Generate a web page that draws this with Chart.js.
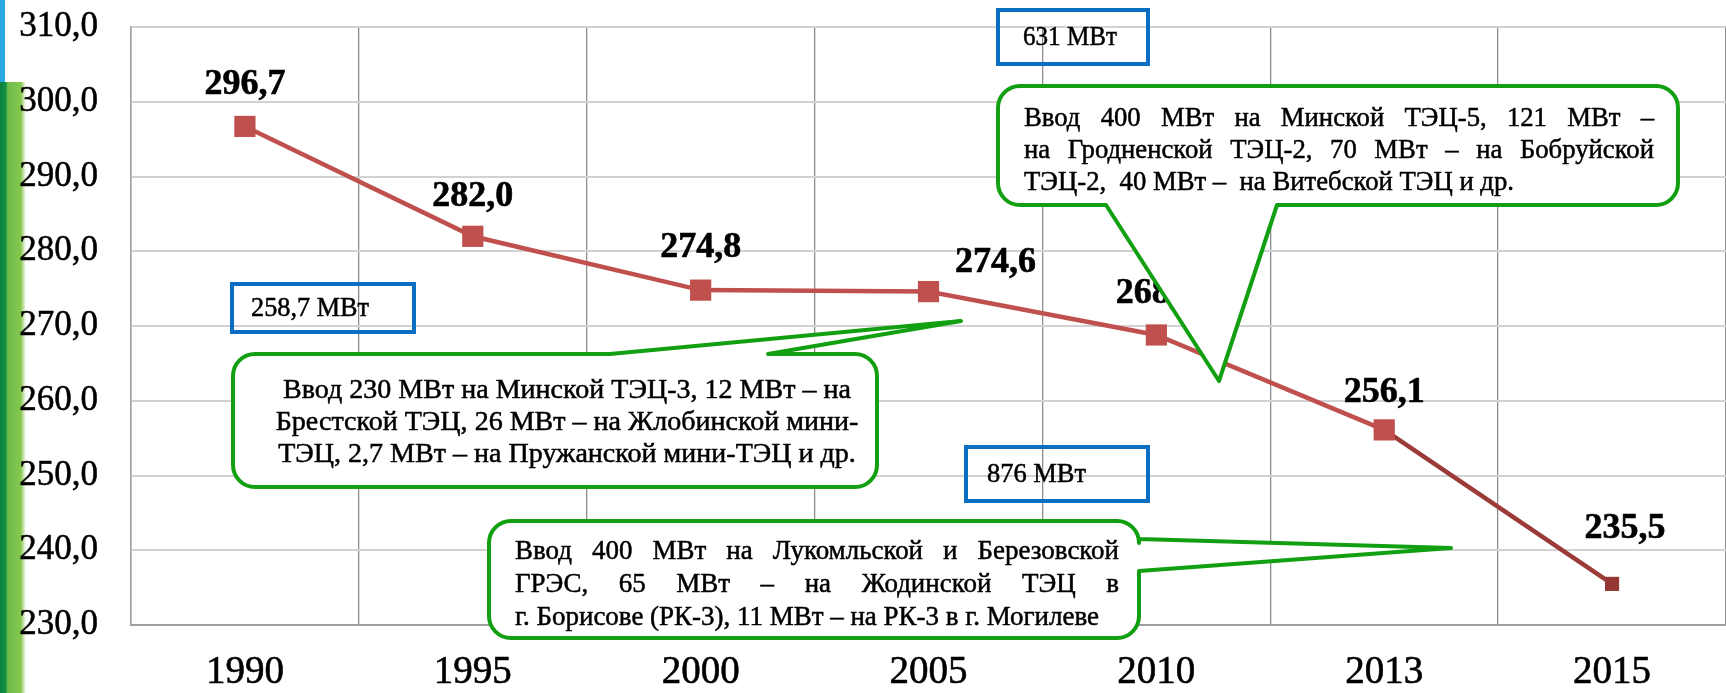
<!DOCTYPE html>
<html>
<head>
<meta charset="utf-8">
<script src="https://cdn.jsdelivr.net/npm/chart.js@4.4.0/dist/chart.umd.min.js"></script>
<style>
html, body { margin: 0; padding: 0; background: #fff; overflow: hidden; }
#wrap { position: relative; width: 1726px; height: 693px; }
</style>
</head>
<body>
<div id="wrap"><canvas id="myChart" width="1726" height="693"></canvas></div>
<script>
// данные графика
var years = ['1990', '1995', '2000', '2005', '2010', '2013', '2015'];
var values = [296.7, 282.0, 274.8, 274.6, 268.8, 256.1, 235.5];
var yMin = 230, yMax = 310, yStep = 10;

var boxTexts = ['258,7 МВт', '631 МВт', '876 МВт'];
var noteLeft = [
    'Ввод 230 МВт на Минской ТЭЦ-3, 12 МВт – на',
    'Брестской ТЭЦ, 26 МВт – на Жлобинской мини-',
    'ТЭЦ, 2,7 МВт – на Пружанской мини-ТЭЦ и др.'
];
var noteTop = [
    'Ввод 400 МВт на Минской ТЭЦ-5, 121 МВт –',
    'на Гродненской ТЭЦ-2, 70 МВт – на Бобруйской',
    'ТЭЦ-2,  40 МВт –  на Витебской ТЭЦ и др.'
];
var noteBottom = [
    'Ввод 400 МВт на Лукомльской и Березовской',
    'ГРЭС, 65 МВт – на Жодинской ТЭЦ в',
    'г. Борисове (РК-3), 11 МВт – на РК-3 в г. Могилеве'
];

// смещения подписей значений относительно точек
var labelShift = [[0, -42], [0, -40], [0, -42], [67, -29], [0, -41], [0, -37], [13, -55]];

var SERIF = "'Liberation Serif', 'Times New Roman', serif";

function fmt(v) { return v.toFixed(1).replace('.', ','); }

function scaledText(ctx, text, x, y, s) {
    ctx.save();
    ctx.translate(x, y);
    ctx.scale(s, 1);
    ctx.fillText(text, 0, 0);
    ctx.strokeText(text, 0, 0);
    ctx.restore();
}

function drawLines(ctx, n) {
    ctx.font = n.size + 'px ' + SERIF;
    ctx.fillStyle = '#000';
    ctx.strokeStyle = '#000';
    ctx.lineWidth = 0.5;
    ctx.textBaseline = 'middle';
    ctx.textAlign = 'left';
    var s = n.refWidth / ctx.measureText(n.lines[n.ref]).width;
    n.lines.forEach(function(line, i) {
        var y = n.y0 + i * n.lh;
        if (n.align === 'center') {
            var w = ctx.measureText(line).width * s;
            scaledText(ctx, line, n.cx - w / 2, y, s);
        } else if (n.align === 'justify' && i < n.lines.length - 1) {
            var words = line.split(/\s+/);
            var total = 0;
            words.forEach(function(wd) { total += ctx.measureText(wd).width * s; });
            var gap = (n.width - total) / (words.length - 1);
            var x = n.x;
            words.forEach(function(wd) {
                scaledText(ctx, wd, x, y, s);
                x += ctx.measureText(wd).width * s + gap;
            });
        } else {
            scaledText(ctx, line, n.x, y, s);
        }
    });
}

function calloutPath(ctx, b, t) {
    var x = b.x, y = b.y, w = b.w, h = b.h, r = b.r;
    ctx.beginPath();
    ctx.moveTo(x + r, y);
    if (t.side === 'top') { ctx.lineTo(t.a, y); ctx.lineTo(t.tx, t.ty); ctx.lineTo(t.b, y); }
    ctx.lineTo(x + w - r, y);
    ctx.arcTo(x + w, y, x + w, y + r, r);
    if (t.side === 'right') { ctx.lineTo(x + w, t.a); ctx.lineTo(t.tx, t.ty); ctx.lineTo(x + w, t.b); }
    ctx.lineTo(x + w, y + h - r);
    ctx.arcTo(x + w, y + h, x + w - r, y + h, r);
    if (t.side === 'bottom') { ctx.lineTo(t.b, y + h); ctx.lineTo(t.tx, t.ty); ctx.lineTo(t.a, y + h); }
    ctx.lineTo(x + r, y + h);
    ctx.arcTo(x, y + h, x, y + h - r, r);
    ctx.lineTo(x, y + r);
    ctx.arcTo(x, y, x + r, y, r);
    ctx.closePath();
}

var callouts = [
    { box: { x: 233, y: 354, w: 644, h: 133, r: 22 },
      tail: { side: 'top', a: 610, b: 768, tx: 961, ty: 321 },
      text: { lines: noteLeft, align: 'center', cx: 567, y0: 391, lh: 32, size: 27, ref: 0, refWidth: 568 } },
    { box: { x: 998, y: 86, w: 680, h: 119, r: 22 },
      tail: { side: 'bottom', a: 1106, b: 1277, tx: 1219, ty: 381 },
      text: { lines: noteTop, align: 'justify', x: 1024, width: 630, y0: 119, lh: 32, size: 27, ref: 2, refWidth: 490 } },
    { box: { x: 489, y: 521, w: 650, h: 117, r: 22 },
      tail: { side: 'right', a: 539, b: 571, tx: 1451, ty: 548 },
      text: { lines: noteBottom, align: 'justify', x: 515, width: 604, y0: 552, lh: 33, size: 27, ref: 2, refWidth: 584 } }
];

var blueBoxes = [
    { x: 232, y: 284, w: 182, h: 48, tx: 251, tw: 118 },
    { x: 998, y: 10, w: 150, h: 54, tx: 1023, tw: 94 },
    { x: 966, y: 447, w: 182, h: 54, tx: 987, tw: 99 }
];

var decorPlugin = {
    id: 'decor',
    beforeDraw: function(chart) {
        var ctx = chart.ctx;
        ctx.save();
        ctx.fillStyle = '#fff';
        ctx.fillRect(0, 0, chart.width, chart.height);
        ctx.fillStyle = '#29a8e0';
        ctx.fillRect(0, 0, 5, 82);
        var g = ctx.createLinearGradient(0, 0, 26, 0);
        g.addColorStop(0, '#0b8040');
        g.addColorStop(0.22, '#149044');
        g.addColorStop(0.3, '#6fbb4a');
        g.addColorStop(0.8, '#86c84f');
        g.addColorStop(1, 'rgba(134,200,79,0)');
        ctx.fillStyle = g;
        ctx.fillRect(0, 82, 26, chart.height - 82);
        ctx.restore();
    },
    afterDatasetsDraw: function(chart) {
        var ctx = chart.ctx;
        var meta = chart.getDatasetMeta(0);
        ctx.save();
        ctx.font = 'bold 36px ' + SERIF;
        ctx.fillStyle = '#000';
        ctx.strokeStyle = '#000';
        ctx.lineWidth = 0.6;
        ctx.textAlign = 'center';
        ctx.textBaseline = 'middle';
        meta.data.forEach(function(pt, i) {
            var x = pt.x + labelShift[i][0], y = pt.y + labelShift[i][1];
            ctx.fillText(fmt(values[i]), x, y);
            ctx.strokeText(fmt(values[i]), x, y);
        });

        // синие рамки с мощностью
        ctx.font = '27px ' + SERIF;
        ctx.textAlign = 'left';
        blueBoxes.forEach(function(b, i) {
            ctx.strokeStyle = '#0a6fc2';
            ctx.lineWidth = 4;
            ctx.strokeRect(b.x, b.y, b.w, b.h);
            ctx.strokeStyle = '#000';
            ctx.lineWidth = 0.5;
            var s = b.tw / ctx.measureText(boxTexts[i]).width;
            scaledText(ctx, boxTexts[i], b.tx, b.y + b.h / 2 + 1, s);
        });

        // выноски
        callouts.forEach(function(c) {
            calloutPath(ctx, c.box, c.tail);
            ctx.fillStyle = '#fff';
            ctx.fill();
            ctx.strokeStyle = '#12a012';
            ctx.lineWidth = 4;
            ctx.lineJoin = 'round';
            ctx.stroke();
            drawLines(ctx, c.text);
        });
        ctx.restore();
    }
};

var ctx = document.getElementById('myChart').getContext('2d');
var myChart = new Chart(ctx, {
    type: 'line',
    data: {
        labels: years,
        datasets: [{
            data: values,
            borderColor: '#c0504d',
            borderWidth: 4.5,
            tension: 0,
            pointStyle: 'rect',
            pointRadius: [15, 15, 15, 15, 15, 15, 10],
            pointBackgroundColor: ['#c0504d', '#c0504d', '#c0504d', '#c0504d', '#c0504d', '#c0504d', '#953735'],
            pointBorderWidth: 0,
            segment: {
                borderColor: function(c) { return c.p1DataIndex === 6 ? '#9b3b38' : '#c0504d'; }
            }
        }]
    },
    options: {
        responsive: false,
        animation: false,
        devicePixelRatio: 1,
        layout: { autoPadding: false, padding: { top: 27, right: 0, left: 0, bottom: 0 } },
        plugins: { legend: { display: false }, title: { display: false }, tooltip: { enabled: false } },
        scales: {
            x: {
                offset: true,
                grid: { offset: true, color: '#8c8c8c', lineWidth: 1.3, drawTicks: false },
                border: { color: '#a0a0a0', width: 2 },
                ticks: { color: '#000', textStrokeColor: '#000', textStrokeWidth: 0.6,
                         font: { family: SERIF, size: 39 }, padding: 24 },
                afterFit: function(s) { s.height = 68; s.paddingLeft = 0; s.paddingRight = 0; }
            },
            y: {
                min: yMin,
                max: yMax,
                grid: { color: '#d2d2d2', lineWidth: 2, drawTicks: false },
                border: { color: '#a0a0a0', width: 1.5 },
                ticks: {
                    stepSize: yStep,
                    color: '#000',
                    textStrokeColor: '#000',
                    textStrokeWidth: 0.5,
                    padding: 33,
                    font: { family: SERIF, size: 35 },
                    callback: function(v) { return fmt(v); }
                },
                afterFit: function(s) { s.width = 131; s.paddingTop = 0; s.paddingBottom = 0; }
            }
        }
    },
    plugins: [decorPlugin]
});
</script>
</body>
</html>
